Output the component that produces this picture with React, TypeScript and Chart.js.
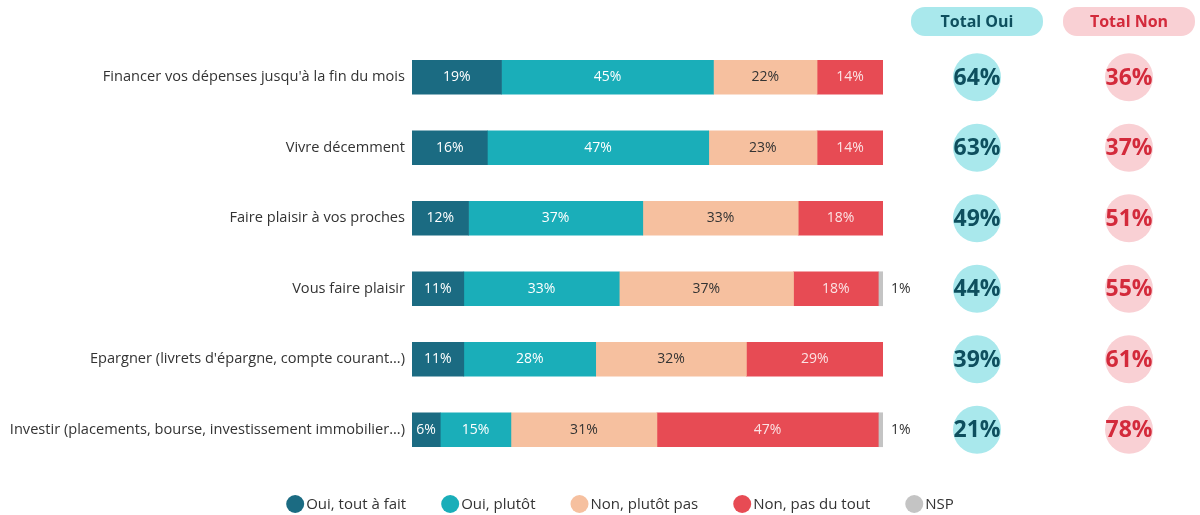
import { useEffect, useRef } from "react";
import { Chart, registerables } from "chart.js";
Chart.register(...registerables);

const categories = [
  "Financer vos dépenses jusqu'à la fin du mois",
  "Vivre décemment",
  "Faire plaisir à vos proches",
  "Vous faire plaisir",
  "Epargner (livrets d'épargne, compte courant...)",
  "Investir (placements, bourse, investissement immobilier...)",
];
const seriesLabels = ["Oui, tout à fait", "Oui, plutôt", "Non, plutôt pas", "Non, pas du tout", "NSP"];
const ouiToutAFait = [19, 16, 12, 11, 11, 6];
const ouiPlutot = [45, 47, 37, 33, 28, 15];
const nonPlutotPas = [22, 23, 33, 37, 32, 31];
const nonPasDuTout = [14, 14, 18, 18, 29, 47];
const nsp = [0, 0, 0, 1, 0, 1];
const totalOui = [64, 63, 49, 44, 39, 21];
const totalNon = [36, 37, 51, 55, 61, 78];
const totalHeaders = ["Total Oui", "Total Non"];

const COLORS = ["#1b6b82", "#1aaeb9", "#f6c09f", "#e74b54", "#c4c4c4"];
const LABEL_COLORS = ["#ffffff", "#ffffff", "#333333", "#fbe3e4", "#333333"];
const FONT = "'Open Sans', sans-serif";

const overlayPlugin = {
  id: "overlay",
  afterDatasetsDraw(chart: any) {
    const ctx = chart.ctx as CanvasRenderingContext2D;
    ctx.save();
    // in-bar labels
    chart.data.datasets.forEach((ds: any, di: number) => {
      const meta = chart.getDatasetMeta(di);
      meta.data.forEach((el: any, i: number) => {
        const v = ds.data[i];
        if (!v) return;
        const p = el.getProps(["x", "base", "y"], true);
        ctx.font = `14px ${FONT}`;
        ctx.textBaseline = "middle";
        if (di === 4) {
          ctx.fillStyle = "#333333";
          ctx.textAlign = "left";
          ctx.fillText(`${v}%`, p.x + 8, p.y);
        } else {
          ctx.fillStyle = LABEL_COLORS[di];
          ctx.textAlign = "center";
          ctx.fillText(`${v}%`, (p.x + p.base) / 2, p.y);
        }
      });
    });

    // totals columns
    const cols = [
      { x: 977, fill: "#a9e8ec", text: "#0e4f5e", values: totalOui, header: totalHeaders[0] },
      { x: 1129, fill: "#f9d0d4", text: "#d32a3b", values: totalNon, header: totalHeaders[1] },
    ];
    const yScale = chart.scales.y;
    cols.forEach((c) => {
      ctx.fillStyle = c.fill;
      ctx.beginPath();
      (ctx as any).roundRect(c.x - 66, 7, 132, 29, 14);
      ctx.fill();
      ctx.fillStyle = c.text;
      ctx.font = `bold 16px ${FONT}`;
      ctx.textAlign = "center";
      ctx.textBaseline = "middle";
      ctx.fillText(c.header, c.x, 22);
      c.values.forEach((v, i) => {
        const y = yScale.getPixelForValue(i);
        ctx.fillStyle = c.fill;
        ctx.beginPath();
        ctx.arc(c.x, y, 24, 0, Math.PI * 2);
        ctx.fill();
        ctx.fillStyle = c.text;
        ctx.font = `bold 23px ${FONT}`;
        ctx.fillText(`${v}%`, c.x, y + 1);
      });
    });

    // legend
    ctx.font = `15px ${FONT}`;
    const r = 9;
    const gap = 35;
    const widths = seriesLabels.map((l) => 2 * r + 2 + ctx.measureText(l).width);
    const total = widths.reduce((a, b) => a + b, 0) + gap * (seriesLabels.length - 1);
    let x = 620 - total / 2;
    const ly = 504;
    seriesLabels.forEach((l, i) => {
      ctx.fillStyle = COLORS[i];
      ctx.beginPath();
      ctx.arc(x + r, ly, r, 0, Math.PI * 2);
      ctx.fill();
      ctx.fillStyle = "#333333";
      ctx.textAlign = "left";
      ctx.textBaseline = "middle";
      ctx.fillText(l, x + 2 * r + 2, ly + 1);
      x += widths[i] + gap;
    });
    ctx.restore();
  },
};

export default function App() {
  const ref = useRef<HTMLCanvasElement>(null);
  useEffect(() => {
    if (!ref.current) return;
    const series = [ouiToutAFait, ouiPlutot, nonPlutotPas, nonPasDuTout, nsp];
    const chart = new Chart(ref.current, {
      type: "bar",
      data: {
        labels: categories,
        datasets: series.map((d, i) => ({
          label: seriesLabels[i],
          data: d,
          backgroundColor: COLORS[i],
          borderWidth: 0,
          barThickness: 34,
        })),
      },
      options: {
        indexAxis: "y",
        responsive: false,
        animation: false,
        devicePixelRatio: 1,
        layout: { padding: { top: 42, bottom: 50, right: 317, left: 0 } },
        plugins: { legend: { display: false }, tooltip: { enabled: false } },
        scales: {
          x: { stacked: true, min: 0, max: 100, display: false },
          y: {
            stacked: true,
            grid: { display: false, drawTicks: false },
            border: { display: false },
            ticks: { color: "#333333", font: { family: FONT, size: 14.6 }, padding: 7 },
            afterFit: (s: any) => {
              s.width = 412;
            },
          },
        },
      },
      plugins: [overlayPlugin],
    });
    return () => chart.destroy();
  }, []);
  return (
    <div style={{ position: "absolute", left: 0, top: 0, width: 1200, height: 515, background: "#fff" }}>
      <canvas ref={ref} width={1200} height={515} />
    </div>
  );
}
